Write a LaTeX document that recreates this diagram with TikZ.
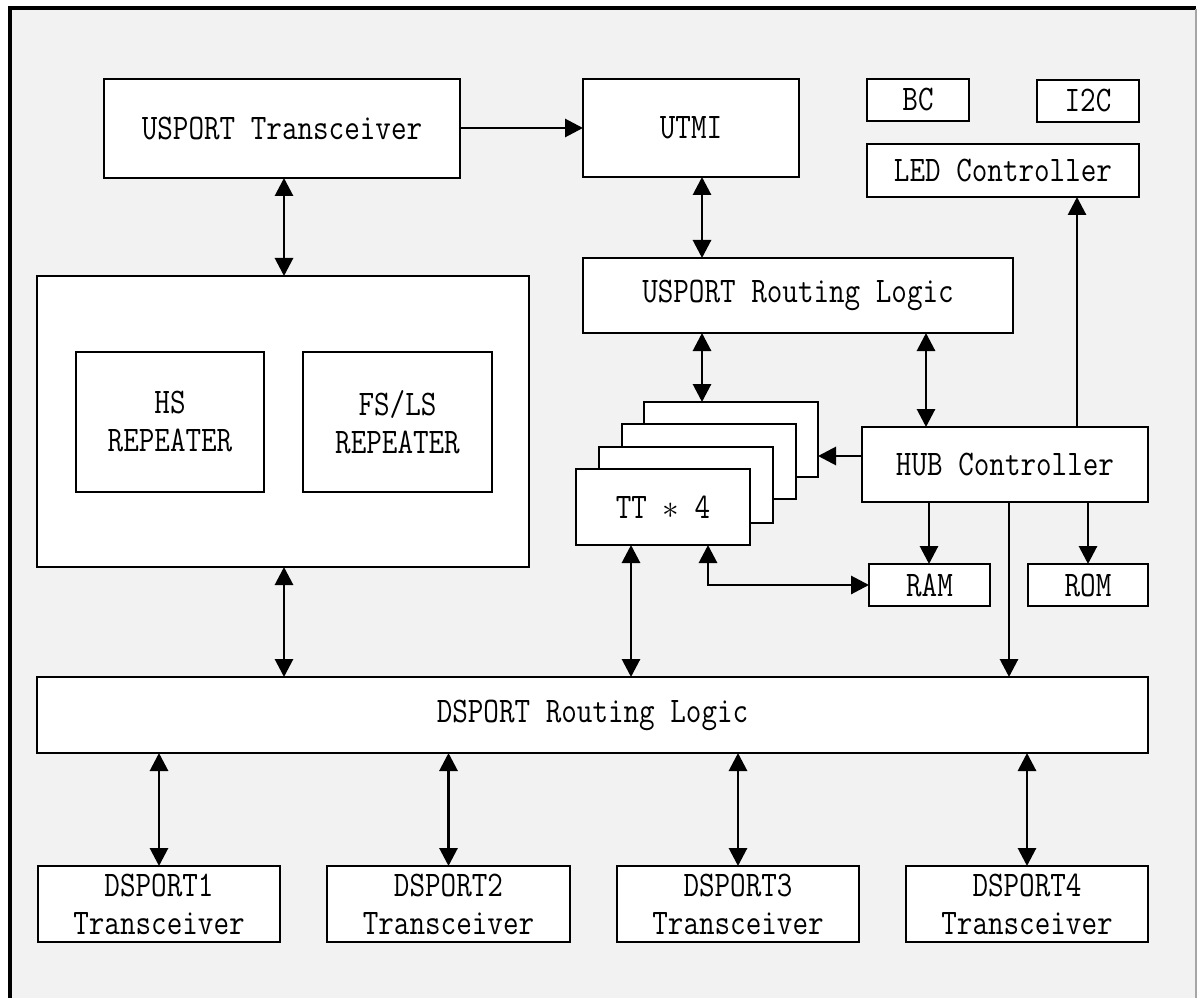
\documentclass[tikz,border=0pt]{standalone}
\usepackage{fontspec}
\newfontfamily\diagfont[FakeStretch=0.84]{Latin Modern Mono}
\usetikzlibrary{arrows.meta}
\definecolor{bgc}{HTML}{F2F2F2}
% \diagbox{name}{x1}{y1}{x2}{y2}{text}
\newcommand\diagbox[6]{%
  \node[box, minimum width={(#4-#2)*0.75pt}, minimum height={(#5-#3)*0.75pt}]
    (#1) at ({(#2+#4)/2},{(#3+#5)/2}) {#6};}
\begin{document}
\begin{tikzpicture}[x=0.75pt,y=-0.75pt,
  box/.style={draw=black, fill=white, line width=1.6pt, inner sep=0pt, outer sep=0pt, align=center,
    font=\diagfont\fontsize{27}{28.5}\selectfont},
  arr/.style={line width=2.2pt, -{Triangle[length=13.5pt,width=13.5pt]}},
  biarr/.style={line width=2.2pt, {Triangle[length=13.5pt,width=13.5pt]}-{Triangle[length=13.5pt,width=13.5pt]}},
]
\useasboundingbox (0,0) rectangle (1198,998);
% frame
\fill[bgc] (9,9) rectangle (1196,998);
\draw[line width=3pt] (9.5,998) -- (9.5,8) -- (1196,8);
\draw[black!35, line width=1.2pt] (1196,9) -- (1196,998);

% boxes
\diagbox{ust}{104}{79}{460}{178}{USPORT Transceiver}
\diagbox{utmi}{583}{79}{799}{177}{UTMI}
\diagbox{bc}{867}{79}{969}{121}{BC}
\diagbox{i2c}{1037}{80}{1139}{122}{I2C}
\diagbox{led}{867}{144}{1139}{197}{LED Controller}
\diagbox{url}{583}{258}{1013}{333}{USPORT Routing Logic}
\diagbox{rep}{37}{276}{529}{567}{}
\diagbox{hs}{76}{352}{264}{492}{HS\\REPEATER}
\diagbox{fsls}{303}{352}{492}{492}{FS/LS\\REPEATER}
\diagbox{tt4}{644}{402}{818}{477}{}
\diagbox{tt3}{622}{424}{796}{499}{}
\diagbox{tt2}{599}{447}{773}{523}{}
\diagbox{tt1}{576}{469}{750}{545}{TT $\ast$ 4}
\diagbox{hub}{862}{427}{1148}{502}{HUB Controller}
\diagbox{ram}{869}{564}{990}{606}{RAM}
\diagbox{rom}{1028}{564}{1148}{606}{ROM}
\diagbox{dsrl}{37}{677}{1148}{753}{DSPORT Routing Logic}
\diagbox{ds1}{38}{866}{280}{942}{DSPORT1\\Transceiver}
\diagbox{ds2}{327}{866}{570}{942}{DSPORT2\\Transceiver}
\diagbox{ds3}{617}{866}{859}{942}{DSPORT3\\Transceiver}
\diagbox{ds4}{906}{866}{1148}{942}{DSPORT4\\Transceiver}

% helper coordinates
\coordinate (xa) at (702,0);
\coordinate (xb) at (926,0);
\coordinate (xl) at (1077,0);
\coordinate (xr) at (929,0);
\coordinate (xo) at (1088,0);
\coordinate (xd) at (1009,0);
\coordinate (xt) at (631,0);
\coordinate (xm) at (708,0);
\coordinate (xp) at (284,0);
\coordinate (yh) at (0,456);
\coordinate (yu) at (0,128);

% connectors
\draw[arr] (ust.east |- yu) -- (utmi.west |- yu);
\draw[biarr] (ust.south -| xp) -- (rep.north -| xp);
\draw[biarr] (utmi.south -| xa) -- (url.north -| xa);
\draw[biarr] (url.south -| xa) -- (tt4.north -| xa);
\draw[biarr] (url.south -| xb) -- (hub.north -| xb);
\draw[arr] (hub.west |- yh) -- (tt4.east |- yh);
\draw[arr] (hub.north -| xl) -- (led.south -| xl);
\draw[arr] (hub.south -| xr) -- (ram.north -| xr);
\draw[arr] (hub.south -| xo) -- (rom.north -| xo);
\draw[arr] (hub.south -| xd) -- (dsrl.north -| xd);
\draw[biarr] (tt1.south -| xt) -- (dsrl.north -| xt);
\draw[biarr] (tt1.south -| xm) |- (ram.west);
\draw[biarr] (rep.south -| xp) -- (dsrl.north -| xp);
\draw[biarr] (dsrl.south -| ds1.north) -- (ds1.north);
\draw[biarr] (dsrl.south -| ds2.north) -- (ds2.north);
\draw[biarr] (dsrl.south -| ds3.north) -- (ds3.north);
\draw[biarr] (dsrl.south -| ds4.north) -- (ds4.north);
\end{tikzpicture}
\end{document}
